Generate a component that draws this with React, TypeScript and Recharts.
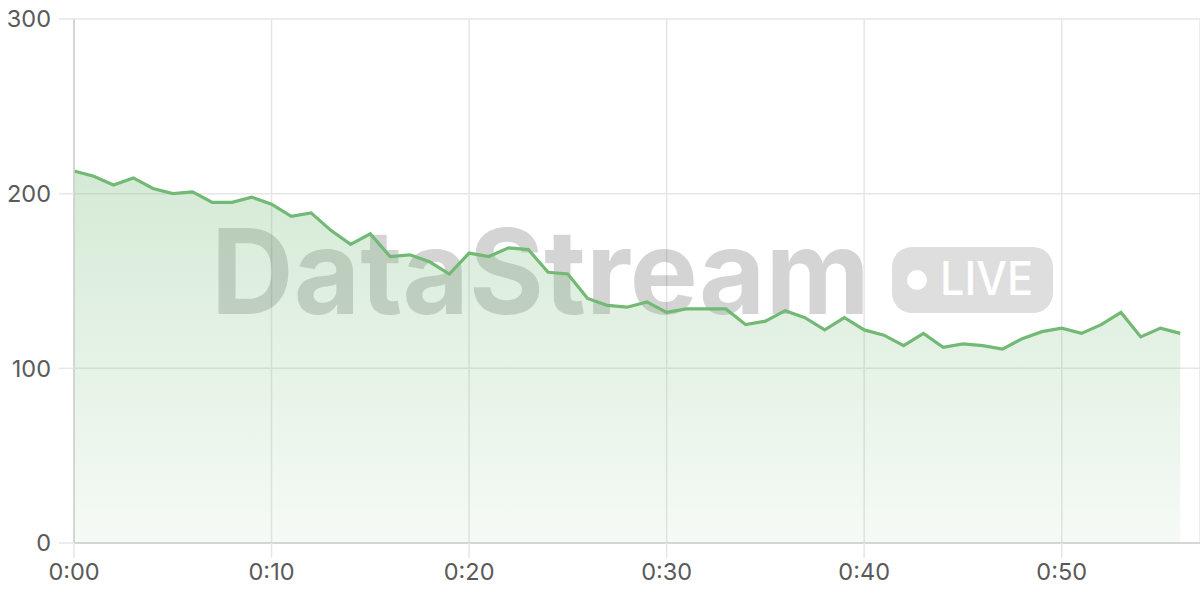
import { Area, AreaChart, CartesianGrid, Customized, Line, XAxis, YAxis } from "recharts";

const minutes = [
  0, 1, 2, 3, 4, 5, 6, 7, 8, 9, 10, 11, 12, 13, 14, 15, 16, 17, 18, 19, 20, 21, 22, 23, 24, 25, 26, 27, 28,
  29, 30, 31, 32, 33, 34, 35, 36, 37, 38, 39, 40, 41, 42, 43, 44, 45, 46, 47, 48, 49, 50, 51, 52, 53, 54, 55, 56,
];

const viewers = [
  213, 210, 205, 209, 203, 200, 201, 195, 195, 198, 194, 187, 189, 179, 171, 177, 164, 165, 161, 154, 166, 164,
  169, 168, 155, 154, 140, 136, 135, 138, 132, 134, 134, 134, 125, 127, 133, 129, 122, 129, 122, 119, 113, 120,
  112, 114, 113, 111, 117, 121, 123, 120, 125, 132, 118, 123, 120,
];

const xTicks = [0, 10, 20, 30, 40, 50];
const yTicks = [0, 100, 200, 300];

const data = minutes.map((t, i) => ({ t, v: viewers[i] }));

const fmtTime = (m: number) => `${Math.floor(m / 60)}:${String(m % 60).padStart(2, "0")}`;

const GREEN = "#72b975";
const tickStyle = { fill: "#5a5a5a", fontSize: 23.5, fontFamily: "Inter, sans-serif" };

// sits between the fill and the line
const Watermark = () => (
  <g style={{ pointerEvents: "none" }}>
    <text
      x={211}
      y={314}
      fontSize={118}
      fontWeight={700}
      fontFamily="Inter, sans-serif"
      textLength={659}
      lengthAdjust="spacingAndGlyphs"
      fill="#000"
      fillOpacity={0.17}
    >
      DataStream
    </text>
    <rect x={892} y={247} width={161} height={66} rx={20} fill="#000" fillOpacity={0.13} />
    <circle cx={917} cy={280} r={10} fill="#fff" />
    <text
      x={940}
      y={295}
      fontSize={46}
      fontWeight={500}
      fontFamily="Inter, sans-serif"
      textLength={93}
      lengthAdjust="spacingAndGlyphs"
      fill="#fff"
    >
      LIVE
    </text>
  </g>
);

export default function App() {
  return (
    <div style={{ position: "absolute", left: 0, top: 0, width: 1200, height: 600, background: "#fff" }}>
      <AreaChart width={1200} height={600} data={data} margin={{ top: 19, right: 0, bottom: 0, left: 0 }}>
        <defs>
          <linearGradient id="fillGreen" x1="0" y1="0" x2="0" y2="1">
            <stop offset="0%" stopColor={GREEN} stopOpacity={0.3} />
            <stop offset="100%" stopColor={GREEN} stopOpacity={0.07} />
          </linearGradient>
        </defs>
        <CartesianGrid stroke="#e6e6e6" strokeWidth={1.5} />
        <XAxis
          dataKey="t"
          type="number"
          domain={[0, 57]}
          ticks={xTicks}
          tickFormatter={fmtTime}
          height={57}
          tickSize={15}
          tickMargin={5}
          tick={tickStyle}
          axisLine={{ stroke: "#cfcfcf", strokeWidth: 1.5 }}
          tickLine={{ stroke: "#e6e6e6", strokeWidth: 1.5 }}
        />
        <YAxis
          domain={[0, 300]}
          ticks={yTicks}
          width={74}
          tickSize={15}
          tickMargin={8}
          tick={tickStyle}
          axisLine={{ stroke: "#cfcfcf", strokeWidth: 1.5 }}
          tickLine={{ stroke: "#e6e6e6", strokeWidth: 1.5 }}
        />
        <Area
          type="linear"
          dataKey="v"
          stroke="none"
          fill="url(#fillGreen)"
          fillOpacity={1}
          dot={false}
          activeDot={false}
          isAnimationActive={false}
        />
        <Customized component={Watermark} />
        <Line
          type="linear"
          dataKey="v"
          stroke={GREEN}
          strokeWidth={3.2}
          dot={false}
          activeDot={false}
          isAnimationActive={false}
        />
      </AreaChart>
    </div>
  );
}
